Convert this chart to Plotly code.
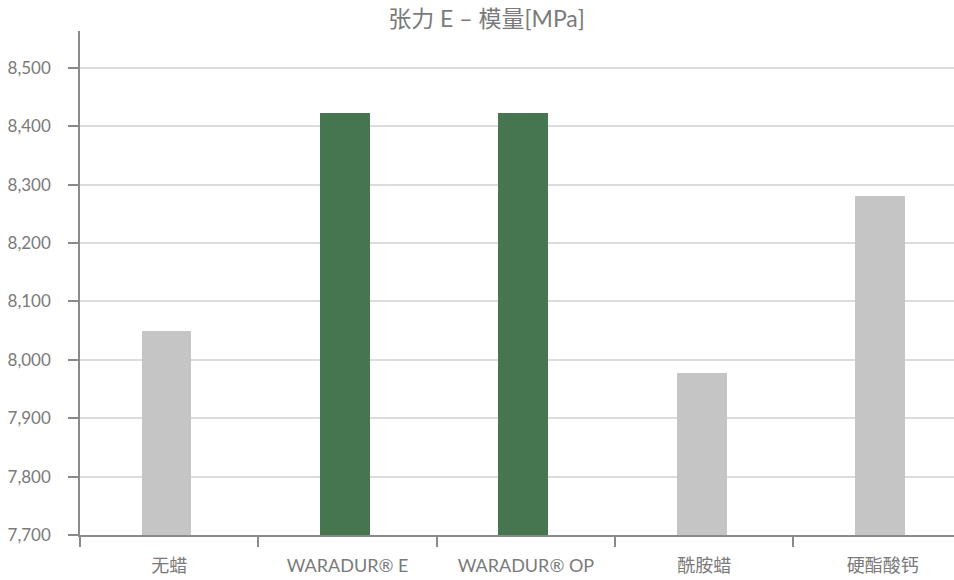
import plotly.graph_objects as go

categories = ["无蜡", "WARADUR® E", "WARADUR® OP", "酰胺蜡", "硬酯酸钙"]
values = [8050, 8422, 8422, 7978, 8280]
bar_colors = ["#c5c5c5", "#46764f", "#46764f", "#c5c5c5", "#c5c5c5"]
title_text = "张力 E – 模量[MPa]"
y_ticks = [7700, 7800, 7900, 8000, 8100, 8200, 8300, 8400, 8500]

FONT = "Lato, 'Noto Sans CJK SC', sans-serif"
TXT = "#7a7a7a"

fig = go.Figure()
fig.add_trace(go.Bar(
    x=categories, y=values,
    marker=dict(color=bar_colors, line=dict(width=0)),
    width=0.28, offset=-0.155,
    hoverinfo="x+y",
))

fig.update_layout(
    width=954, height=580,
    margin=dict(l=79.5, r=0, t=31, b=45),
    paper_bgcolor="white", plot_bgcolor="white",
    showlegend=False,
    title=dict(text=title_text, x=0.51, xanchor="center", y=0.967, yanchor="middle",
               font=dict(family=FONT, size=23, color=TXT)),
    font=dict(family=FONT, color=TXT),
    xaxis=dict(
        type="category", range=[-0.5, 4.4],
        showline=True, linecolor="#8a8a8a", linewidth=1.5,
        ticks="outside", tickson="boundaries", ticklen=10, tickwidth=1.5, tickcolor="#8a8a8a",
        showgrid=False, zeroline=False,
        tickfont=dict(family=FONT, size=18, color=TXT),
        ticklabelstandoff=14,
    ),
    yaxis=dict(
        range=[7700, 8563],
        tickvals=y_ticks, tickformat=",d",
        showline=True, linecolor="#8a8a8a", linewidth=1.5,
        ticks="outside", ticklen=10, tickwidth=1.5, tickcolor="#8a8a8a",
        showgrid=True, gridcolor="#dcdcdc", gridwidth=1.5,
        zeroline=False,
        tickfont=dict(family=FONT, size=17, color=TXT),
        ticklabelstandoff=14,
    ),
    bargap=0,
)

fig.write_html("out.html")
